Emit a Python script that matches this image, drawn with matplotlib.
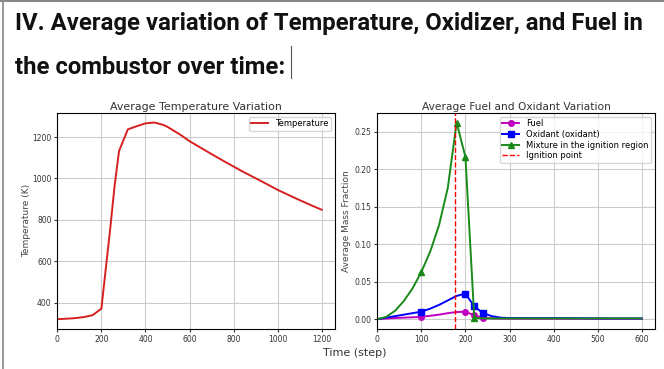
import matplotlib.pyplot as plt

# ---- data ----
temp_t = [0, 40, 80, 120, 160, 200, 240, 260, 280, 320, 360, 400, 440, 480,
          500, 560, 600, 680, 760, 840, 920, 1000, 1080, 1160, 1200]
temp_k = [321, 323, 326, 331, 340, 372, 757, 965, 1132, 1237, 1252, 1266, 1270, 1259,
          1249, 1210, 1180, 1130, 1081, 1034, 990, 945, 905, 867, 849]

mix_t = [0, 20, 40, 60, 80, 100, 120, 140, 160, 180, 200, 220, 240, 260, 280,
         300, 350, 400, 450, 500, 550, 600]
fuel = [0.0, 0.0008, 0.0015, 0.002, 0.0025, 0.003, 0.0045, 0.006, 0.008, 0.0095, 0.010,
        0.005, 0.002, 0.001, 0.0007, 0.0006, 0.0005, 0.0005, 0.0005, 0.0004, 0.0004, 0.0004]
oxidant = [0.0, 0.002, 0.004, 0.006, 0.008, 0.010, 0.014, 0.019, 0.025, 0.031, 0.034,
           0.017, 0.008, 0.004, 0.002, 0.0015, 0.0015, 0.0015, 0.0013, 0.0011, 0.001, 0.001]
mixture = [0.0, 0.003, 0.011, 0.024, 0.041, 0.063, 0.090, 0.125, 0.175, 0.262, 0.216,
           0.002, 0.001, 0.001, 0.001, 0.001, 0.001, 0.001, 0.001, 0.001, 0.001, 0.001]
ignition_t = 177

fig = plt.figure(figsize=(6.64, 3.69), dpi=100)

# ---- slide heading ----
fig.text(0.022, 0.92, "IV. Average variation of Temperature, Oxidizer, and Fuel in",
         fontsize=17.2, fontweight="bold", family="Roboto", color="#111111")
fig.text(0.022, 0.80, "the combustor over time:",
         fontsize=17.2, fontweight="bold", family="Roboto", color="#111111")
fig.add_artist(plt.Line2D([0.438, 0.438], [0.789, 0.875], color="#555555", lw=0.8))
fig.add_artist(plt.Line2D([0, 1], [0.997, 0.997], color="#888888", lw=1.5))
fig.add_artist(plt.Line2D([0.005, 0.005], [0, 1], color="#888888", lw=1.2))

# ---- left: temperature ----
ax1 = fig.add_axes([0.0863, 0.1084, 0.4182, 0.5862])
ax1.plot(temp_t, temp_k, color="#d62020", lw=1.4, label="Temperature")
ax1.set_xlim(0, 1260)
ax1.set_xticks([0, 200, 400, 600, 800, 1000, 1200])
ax1.set_yticks([400, 600, 800, 1000, 1200])
ax1.set_title("Average Temperature Variation", fontsize=7.9, color="#333333", pad=2)
ax1.set_ylabel("Temperature (K)", fontsize=6.5, color="#444444", labelpad=1)
ax1.grid(True, color="#cccccc", lw=0.8)
ax1.tick_params(labelsize=5.5, length=2, pad=2, colors="#333333")
ax1.legend(loc="upper right", fontsize=6, handlelength=2, borderpad=0.3)

# ---- right: fuel / oxidant ----
ax2 = fig.add_axes([0.5682, 0.1084, 0.4182, 0.5862])
ax2.plot(mix_t, fuel, color="m", marker="o", ms=4, lw=1.4, markevery=[5, 10, 11, 12], label="Fuel")
ax2.plot(mix_t, oxidant, color="b", marker="s", ms=4, lw=1.4, markevery=[5, 10, 11, 12],
         label="Oxidant (oxidant)")
ax2.plot(mix_t, mixture, color="#1a8a1a", marker="^", ms=4, lw=1.4, markevery=[5, 9, 10, 11],
         label="Mixture in the ignition region")
ax2.axvline(ignition_t, color="r", ls="--", lw=1, label="Ignition point")
ax2.set_xlim(0, 630)
ax2.set_xticks([0, 100, 200, 300, 400, 500, 600])
ax2.set_yticks([0.0, 0.05, 0.10, 0.15, 0.20, 0.25])
ax2.set_title("Average Fuel and Oxidant Variation", fontsize=7.7, color="#333333", pad=2)
ax2.set_ylabel("Average Mass Fraction", fontsize=6.5, color="#444444", labelpad=3)
ax2.grid(True, color="#cccccc", lw=0.8)
ax2.tick_params(labelsize=5.5, length=2, pad=2, colors="#333333")
ax2.legend(loc="upper right", fontsize=6, handlelength=2, borderpad=0.3, labelspacing=0.2)

fig.text(0.535, 0.035, "Time (step)", fontsize=8, color="#333333", ha="center")

fig.savefig("out.png", dpi=100)
